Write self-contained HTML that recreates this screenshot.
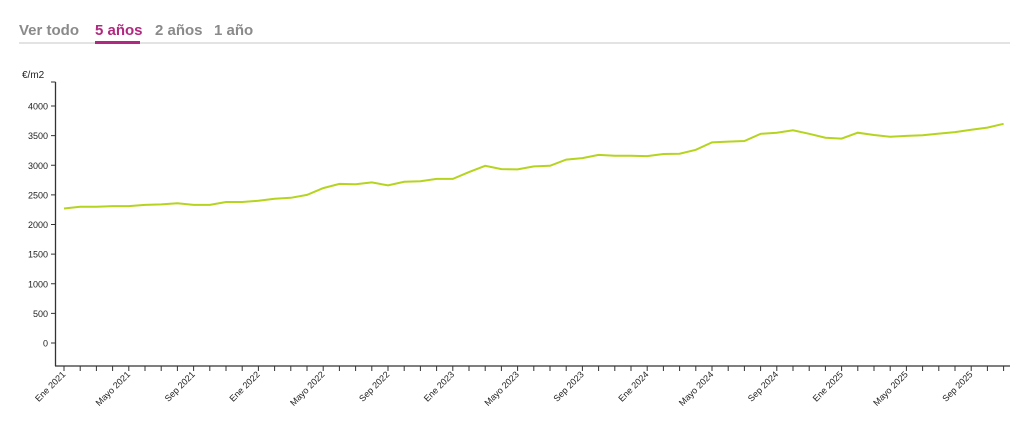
<!DOCTYPE html>
<html><head><meta charset="utf-8"><style>
body{margin:0;background:#fff;width:1024px;height:429px;overflow:hidden;font-family:"Liberation Sans",sans-serif}
.tabs{position:absolute;left:19px;top:22px;font-size:15px;font-weight:bold;color:#8a8a8a}
.tabs span{position:absolute;white-space:nowrap}
</style></head><body>
<div style="position:absolute;left:19px;top:42px;width:991px;height:2px;background:#e3e3e3"></div>
<div style="position:absolute;left:95px;top:41px;width:45px;height:3px;background:#b0287f"></div>
<div class="tabs">
<span style="left:0;top:0">Ver todo</span>
<span style="left:76px;top:0;color:#b0287f">5 años</span>
<span style="left:136px;top:0">2 años</span>
<span style="left:195px;top:0">1 año</span>
</div>
<svg id="c" width="1024" height="429" style="position:absolute;left:0;top:0" font-family="Liberation Sans, sans-serif"></svg>
<script>
var v=[2270,2300,2300,2310,2310,2330,2340,2358,2330,2330,2380,2380,2400,2435,2450,2500,2615,2685,2680,2710,2660,2720,2730,2770,2770,2885,2990,2935,2930,2980,2990,3095,3120,3175,3160,3160,3155,3190,3195,3260,3385,3400,3410,3530,3550,3590,3530,3465,3450,3550,3510,3480,3495,3505,3535,3560,3600,3635,3700];
var s='';
function X(i){return 64+i*16.2}
function Y(a){return 343-a*0.05925}
s+='<line x1="55.5" y1="82" x2="55.5" y2="366" stroke="#333" stroke-width="1.3"/>';
s+='<line x1="51" y1="82" x2="55.5" y2="82" stroke="#333"/>';
s+='<line x1="55" y1="366" x2="1010" y2="366" stroke="#333" stroke-width="1.3"/>';
s+='<text x="22" y="78" font-size="10" fill="#222">€/m2</text>';
for(var k=0;k<=8;k++){var y=Y(k*500);
s+='<line x1="51" y1="'+y+'" x2="55.5" y2="'+y+'" stroke="#333"/>';
s+='<text x="48" y="'+(y+3.5)+'" font-size="9" fill="#222" text-anchor="end">'+(k*500)+'</text>';}
var m=['Ene','Mayo','Sep'];
for(var i=0;i<=58;i++){var x=X(i);
s+='<line x1="'+x+'" y1="366" x2="'+x+'" y2="371" stroke="#333"/>';
if(i%4==0){var lab=m[(i/4)%3]+' '+(2021+Math.floor(i/12));
s+='<text transform="translate('+(x+2)+',375) rotate(-45)" font-size="9" fill="#222" text-anchor="end">'+lab+'</text>';}}
var p=v.map(function(a,i){return X(i).toFixed(1)+','+Y(a).toFixed(1)}).join(' ');
s+='<polyline points="'+p+'" fill="none" stroke="#b5d41e" stroke-width="2"/>';
document.getElementById('c').innerHTML=s;
</script>
</body></html>
